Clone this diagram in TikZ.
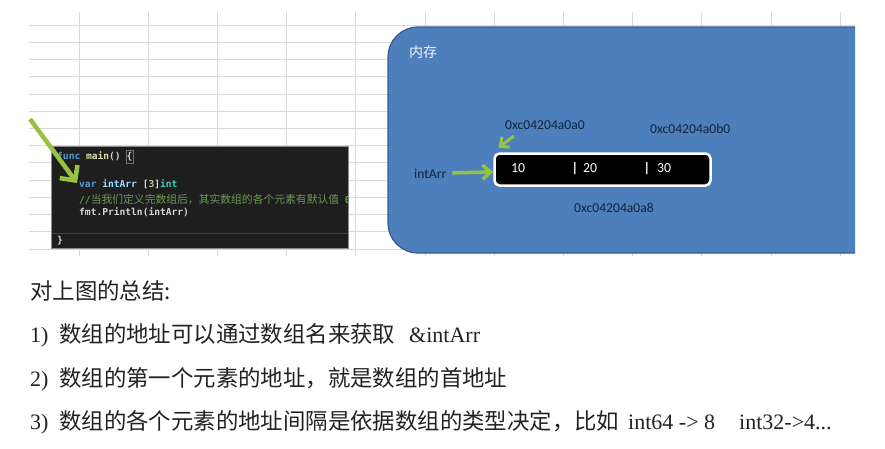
\documentclass[tikz,border=0pt]{standalone}
\usepackage{fontspec}
\usetikzlibrary{arrows.meta}
\setmainfont{Liberation Serif}
\newfontfamily\cjkfont{Noto Sans CJK SC}
\newfontfamily\lblfont{Carlito}
\newfontfamily\codefont{DejaVu Sans Mono}
\definecolor{gridc}{HTML}{D9D9D9}
\definecolor{memfill}{RGB}{76,127,188}
\definecolor{memedge}{HTML}{385D8A}
\definecolor{codebg}{HTML}{1E1E1E}
\definecolor{codeedge}{HTML}{8A8A8A}
\definecolor{gr}{RGB}{150,196,66}
\definecolor{lblc}{HTML}{15243A}
\definecolor{kw}{HTML}{569CD6}
\definecolor{fn}{HTML}{DCDCAA}
\definecolor{vr}{HTML}{9CDCFE}
\definecolor{ty}{HTML}{4EC9B0}
\definecolor{nm}{HTML}{B5CEA8}
\definecolor{cmt}{HTML}{6A9955}
\definecolor{plain}{HTML}{D4D4D4}
\definecolor{txt}{HTML}{222222}
\begin{document}
\begin{tikzpicture}[x=1pt,y=-1pt,
  gridline/.style={draw=gridc, line width=0.8pt},
  lbl/.style={anchor=base west, inner sep=0pt, text=lblc, font=\lblfont\fontsize{13.6}{15}\selectfont},
  celltxt/.style={anchor=base west, inner sep=0pt, text=white, font=\lblfont\fontsize{13.8}{15}\selectfont},
  codetxt/.style={anchor=base west, inner sep=0pt, text=plain, font=\codefont\bfseries\fontsize{9.6}{11}\selectfont},
  btxt/.style={anchor=base west, inner sep=0pt, text=txt, font=\fontsize{22}{26}\selectfont},
  garrow/.style={draw=gr, line width=3.5pt, -{Straight Barb[length=8pt,width=14pt]}},
]
\useasboundingbox (0,0) rectangle (885,448);
\fill[white] (0,0) rectangle (885,448);

% spreadsheet grid
\foreach \i in {0,...,13} \draw[gridline] (29,25+17.23*\i) -- (855,25+17.23*\i);
\foreach \i in {0,...,11} \draw[gridline] (79+69.2*\i,12) -- (79+69.2*\i,256);

% code editor screenshot
\node[draw=codeedge, fill=codebg, line width=0.8pt, anchor=north west, minimum width=297pt, minimum height=102pt, inner sep=0pt] (code) at (51,146) {};
\draw[draw=black!75, line width=0.6pt] (51.5,233) -- (347.5,233);
\draw[draw=black!55, line width=0.5pt] (126,150) rectangle (133,163);
\begin{scope}
\clip (51.5,146.5) rectangle (347.5,247.5);
\node[codetxt] (c1) at (57,159.5) {\textcolor{kw}{func} \textcolor{fn}{main}() \{};
\node[codetxt] (c2) at (79,187.5) {\textcolor{kw}{var} \textcolor{vr}{intArr} [\textcolor{nm}{3}]\textcolor{ty}{int}};
\node[codetxt, text=cmt] (c3) at (79,203) {//{\cjkfont\mdseries\fontsize{10.8}{12}\selectfont 当我们定义完数组后，其实数组的各个元素有默认值} 0};
\node[codetxt] (c4) at (79,215.5) {fmt.Println(intArr)};
\node[codetxt] (c5) at (57,243.5) {\}};
\end{scope}

% memory region
\fill[memfill] (855,27) -- (418,27) arc[start angle=270,end angle=180,radius=30] -- (388,223) arc[start angle=180,end angle=90,radius=30] -- (855,253) -- cycle;
\draw[memedge, line width=1.2pt] (855,27) -- (418,27) arc[start angle=270,end angle=180,radius=30] -- (388,223) arc[start angle=180,end angle=90,radius=30] -- (855,253);
\node[anchor=base west, inner sep=0pt, text=white!92!memfill, font=\cjkfont\fontsize{14}{16}\selectfont] (mem) at (409,57) {内存};

% array cells
\node[draw=white, fill=black, line width=2.5pt, rounded corners=5pt, minimum width=216pt, minimum height=32pt, inner sep=0pt] (arr) at (602.5,169.5) {};
\node[celltxt] (v1) at (511,172.5) {10};
\node[celltxt, font=\lblfont\bfseries\fontsize{13.8}{15}\selectfont] (s1) at (571.5,172.5) {|};
\node[celltxt] (v2) at (583,172.5) {20};
\node[celltxt, font=\lblfont\bfseries\fontsize{13.8}{15}\selectfont] (s2) at (643.5,172.5) {|};
\node[celltxt] (v3) at (657,172.5) {30};

% address labels
\node[lbl] (a0) at (505,129) {0xc04204a0a0};
\node[lbl] (b0) at (650,133) {0xc04204a0b0};
\node[lbl] (a8) at (574,212) {0xc04204a0a8};
\node[lbl] (name) at (414,178) {intArr};

% green arrows
\draw[garrow, shorten <=6pt] (name) -- (arr);
\coordinate (topS) at (514,136);
\coordinate (topT) at (498.5,147.5);
\draw[garrow, line width=3pt, -{Straight Barb[length=7pt,width=13pt]}] (topS) -- (topT);
\coordinate (bigS) at (30,119);
\coordinate (bigT) at (77,183);
\draw[garrow, line width=4.5pt, -{Straight Barb[length=11pt,width=22pt]}] (bigS) -- (bigT);

% summary text
\node[btxt] (h0) at (30,299.5) {\cjkfont\fontsize{22.4}{26}\selectfont 对上图的总结:};
\node[btxt] (n1) at (30,342.8) {1)};
\node[btxt] (t1) at (59,342.8) {\cjkfont\fontsize{22.4}{26}\selectfont 数组的地址可以通过数组名来获取};
\node[btxt] (e1) at (409,342.8) {\&intArr};
\node[btxt] (n2) at (30,386.1) {2)};
\node[btxt] (t2) at (59,386.1) {\cjkfont\fontsize{22.4}{26}\selectfont 数组的第一个元素的地址，就是数组的首地址};
\node[btxt] (n3) at (30,429.5) {3)};
\node[btxt] (t3) at (59,429.5) {\cjkfont\fontsize{22.4}{26}\selectfont 数组的各个元素的地址间隔是依据数组的类型决定，比如};
\node[btxt] (e3a) at (628,429.5) {int64 -> 8};
\node[btxt] (e3b) at (739,429.5) {int32->4...};
\end{tikzpicture}
\end{document}
